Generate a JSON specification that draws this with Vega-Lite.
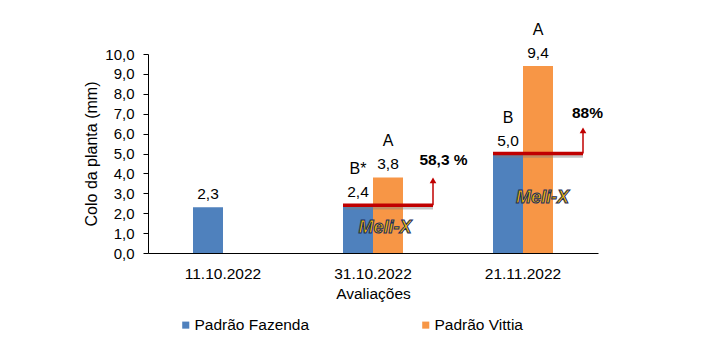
{
  "$schema": "https://vega.github.io/schema/vega-lite/v6.json",
  "width": 450,
  "height": 199,
  "autosize": {"type": "none"},
  "padding": {"left": 148, "top": 54, "right": 111, "bottom": 109},
  "config": {
    "view": {"stroke": null},
    "font": "Liberation Sans",
    "axis": {"labelFont": "Liberation Sans", "titleFont": "Liberation Sans", "labelColor": "#000", "titleColor": "#000", "titleFontWeight": "normal", "grid": false},
    "axisY": {"values": [0, 1, 2, 3, 4, 5, 6, 7, 8, 9, 10], "labelOverlap": false, "labelExpr": "replace(format(datum.value,'.1f'),'.',',')", "domainColor": "#000", "tickColor": "#000", "tickSize": 5, "labelFontSize": 15, "labelPadding": 9, "titleFontSize": 16, "titlePadding": 5},
    "text": {"font": "Liberation Sans"}
  },
  "layer": [
    {
      "data": {"values": [
        {"data": "11.10.2022", "serie": "Padrão Fazenda", "valor": 2.3, "rotulo": "2,3", "letra": ""},
        {"data": "31.10.2022", "serie": "Padrão Fazenda", "valor": 2.4, "rotulo": "2,4", "letra": "B*"},
        {"data": "31.10.2022", "serie": "Padrão Vittia", "valor": 3.8, "rotulo": "3,8", "letra": "A"},
        {"data": "21.11.2022", "serie": "Padrão Fazenda", "valor": 5.0, "rotulo": "5,0", "letra": "B"},
        {"data": "21.11.2022", "serie": "Padrão Vittia", "valor": 9.4, "rotulo": "9,4", "letra": "A"}
      ]},
      "encoding": {
        "x": {"field": "data", "type": "nominal", "sort": ["11.10.2022", "31.10.2022", "21.11.2022"],
              "scale": {"paddingInner": 0.6, "paddingOuter": 0.3},
              "axis": {"labelAngle": 0, "ticks": false, "domainColor": "#000", "labelFontSize": 15.5, "labelPadding": 13, "title": "Avaliações", "titleFontSize": 15.5, "titlePadding": 5}},
        "xOffset": {"field": "serie", "type": "nominal", "scale": {"paddingInner": 0, "paddingOuter": 0}},
        "y": {"field": "valor", "type": "quantitative", "title": "Colo da planta (mm)",
              "scale": {"domain": [0, 10], "nice": false},
              "axis": {"values": [0, 1, 2, 3, 4, 5, 6, 7, 8, 9, 10], "labelOverlap": false}}
      },
      "layer": [
        {
          "mark": {"type": "bar"},
          "encoding": {
            "color": {"field": "serie", "type": "nominal",
                      "scale": {"domain": ["Padrão Fazenda", "Padrão Vittia"], "range": ["#4F81BD", "#F79646"]},
                      "legend": {"orient": "none", "legendX": 30, "legendY": 263, "direction": "horizontal", "title": null, "symbolType": "square", "symbolSize": 50, "symbolStrokeWidth": 0, "labelFontSize": 15.5, "labelFont": "Liberation Sans", "labelColor": "#000", "labelOffset": 1, "columnPadding": 108}}
          }
        },
        {
          "mark": {"type": "text", "dy": -13, "baseline": "middle", "fontSize": 15.5, "color": "#000"},
          "encoding": {"text": {"field": "rotulo"}}
        },
        {
          "mark": {"type": "text", "dy": -36, "baseline": "middle", "fontSize": 16, "color": "#000"},
          "encoding": {"text": {"field": "letra"}}
        }
      ]
    },
    {
      "layer": [
        {
          "data": {"values": [
            {"x1": 1.3, "x2": 1.9, "valor": 2.4},
            {"x1": 2.3, "x2": 2.9, "valor": 5.0}
          ]},
          "mark": {"type": "rule", "color": "#7F7F7F", "opacity": 0.45, "strokeWidth": 3.5, "yOffset": 2.5, "xOffset": 2},
          "encoding": {
            "x": {"field": "x1", "type": "quantitative", "scale": {"domain": [0, 3], "nice": false, "zero": false}, "axis": null},
            "x2": {"field": "x2"},
            "y": {"field": "valor", "type": "quantitative", "title": "Colo da planta (mm)", "axis": {"values": [0, 1, 2, 3, 4, 5, 6, 7, 8, 9, 10], "labelOverlap": false}}
          }
        },
        {
          "data": {"values": [
            {"x1": 1.3, "x2": 1.9, "valor": 2.4},
            {"x1": 2.3, "x2": 2.9, "valor": 5.0}
          ]},
          "mark": {"type": "rule", "color": "#C00000", "strokeWidth": 3.5},
          "encoding": {
            "x": {"field": "x1", "type": "quantitative", "axis": null},
            "x2": {"field": "x2"},
            "y": {"field": "valor", "type": "quantitative", "title": "Colo da planta (mm)", "axis": {"values": [0, 1, 2, 3, 4, 5, 6, 7, 8, 9, 10], "labelOverlap": false}}
          }
        },
        {
          "data": {"values": [
            {"x": 1.9, "valor": 2.4, "valor2": 3.6},
            {"x": 2.9, "valor": 5.0, "valor2": 6.1}
          ]},
          "mark": {"type": "rule", "color": "#C00000", "strokeWidth": 1.5},
          "encoding": {
            "x": {"field": "x", "type": "quantitative", "axis": null},
            "y": {"field": "valor", "type": "quantitative", "title": "Colo da planta (mm)", "axis": {"values": [0, 1, 2, 3, 4, 5, 6, 7, 8, 9, 10], "labelOverlap": false}},
            "y2": {"field": "valor2"}
          }
        },
        {
          "data": {"values": [
            {"x": 1.9, "valor": 3.65},
            {"x": 2.9, "valor": 6.16}
          ]},
          "mark": {"type": "point", "shape": "triangle-up", "filled": true, "color": "#C00000", "size": 45, "opacity": 1},
          "encoding": {
            "x": {"field": "x", "type": "quantitative", "axis": null},
            "y": {"field": "valor", "type": "quantitative", "title": "Colo da planta (mm)", "axis": {"values": [0, 1, 2, 3, 4, 5, 6, 7, 8, 9, 10], "labelOverlap": false}}
          }
        },
        {
          "data": {"values": [
            {"x": 1.97, "valor": 4.67, "t": "58,3 %"},
            {"x": 2.93, "valor": 7.03, "t": "88%"}
          ]},
          "mark": {"type": "text", "fontWeight": "bold", "fontSize": 15.5, "baseline": "middle", "color": "#000"},
          "encoding": {
            "x": {"field": "x", "type": "quantitative", "axis": null},
            "y": {"field": "valor", "type": "quantitative", "title": "Colo da planta (mm)", "axis": {"values": [0, 1, 2, 3, 4, 5, 6, 7, 8, 9, 10], "labelOverlap": false}},
            "text": {"field": "t"}
          }
        },
        {
          "data": {"values": [
            {"x": 1.58, "valor": 1.25, "t": "Meli-X"},
            {"x": 2.63, "valor": 2.75, "t": "Meli-X"}
          ]},
          "mark": {"type": "text", "fontWeight": "bold", "fontStyle": "italic", "fontSize": 18, "baseline": "middle", "color": "#F2B705", "stroke": "#1B2F5E", "strokeWidth": 1},
          "encoding": {
            "x": {"field": "x", "type": "quantitative", "axis": null},
            "y": {"field": "valor", "type": "quantitative", "title": "Colo da planta (mm)", "axis": {"values": [0, 1, 2, 3, 4, 5, 6, 7, 8, 9, 10], "labelOverlap": false}},
            "text": {"field": "t"}
          }
        }
      ]
    }
  ],
  "resolve": {"scale": {"x": "independent"}}
}
